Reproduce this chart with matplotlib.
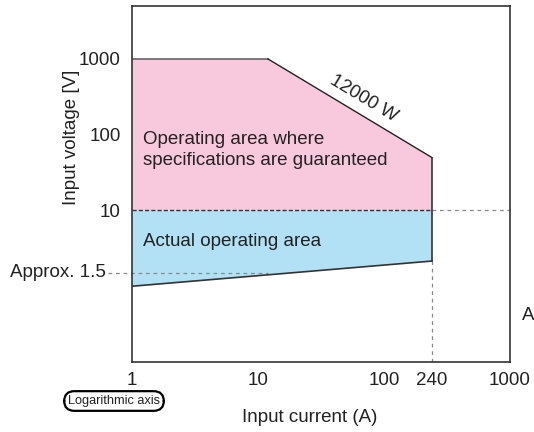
import matplotlib
matplotlib.use("Agg")
import matplotlib.pyplot as plt

plt.rcParams['font.family'] = ['Liberation Sans', 'DejaVu Sans']

# boundaries of the operating areas (current in A, voltage in V)
spec_current = [1, 12, 240, 240, 1]
spec_voltage = [1000, 1000, 50, 10, 10]
actual_current = [1, 240, 240, 1]
actual_voltage = [10, 10, 2.15, 1.0]
power_current = [12, 240]
power_voltage = [1000, 50]

x_ticks = [1, 10, 100, 240, 1000]
x_labels = ['1', '10', '100', '240', '1000']
y_ticks = [10, 100, 1000]
y_labels = ['10', '100', '1000']

pink = '#F8C9DD'
blue = '#B2E1F6'
edge = '#333333'
txt = '#222222'
fs = 13.5

fig = plt.figure(figsize=(5.34, 4.32), dpi=100)
ax = fig.add_axes([132 / 534, 1 - 362 / 432, 378 / 534, 356 / 432])
ax.set_xscale('log')
ax.set_yscale('log')
ax.set_xlim(1, 1000)
ax.set_ylim(0.1, 5000)

ax.fill(spec_current, spec_voltage, color=pink, lw=0, zorder=1)
ax.fill(actual_current, actual_voltage, color=blue, lw=0, zorder=1)

# outlines
ax.plot(spec_current[:2], spec_voltage[:2], color='#666666', lw=1.2, zorder=3)
ax.plot(power_current, power_voltage, color='#222222', lw=1.0, zorder=3)
ax.plot([240, 240], [spec_voltage[2], actual_voltage[2]], color=edge, lw=1.2, zorder=3)
ax.plot(actual_current[:2], actual_voltage[:2], color=edge, lw=1.0, ls=(0, (3, 1.5)), zorder=3)
ax.plot(actual_current[2:], actual_voltage[2:], color=edge, lw=1.2, zorder=3)

# guide lines
ax.plot([240, 1000], [10, 10], color='#888888', lw=0.9, ls=(0, (3, 3)), zorder=2, clip_on=False)
ax.plot([240, 240], [0.1, actual_voltage[2]], color='#888888', lw=0.9, ls=(0, (3, 3)), zorder=2)
ax.plot([0.645, 12], [1.5, 1.5], color='#888888', lw=0.9, ls=(0, (3, 3)), zorder=2, clip_on=False)

for s in ax.spines.values():
    s.set_color(edge)
    s.set_linewidth(1.2)
    s.set_zorder(4)

ax.set_xticks(x_ticks)
ax.set_xticklabels(x_labels)
ax.set_yticks(y_ticks)
ax.set_yticklabels(y_labels)
ax.minorticks_off()
ax.tick_params(length=0, labelsize=fs, colors=txt)
ax.tick_params(axis='x', pad=7)
ax.tick_params(axis='y', pad=8)

ax.text(0.625, 1.5, 'Approx. 1.5', fontsize=fs, color=txt, ha='right', va='center')

ax.text(1.22, 62, 'Operating area where\nspecifications are guaranteed', fontsize=fs,
        color=txt, ha='left', va='center', linespacing=1.3)
ax.text(1.22, 3.9, 'Actual operating area', fontsize=fs, color=txt, ha='left', va='center')
ax.text(69, 300, '12000 W', fontsize=fs, color=txt, ha='center', va='center', rotation=-31)

fig.text(72 / 534, 1 - 137 / 432, 'Input voltage [V]', fontsize=fs, color=txt,
         rotation=90, ha='center', va='center')
fig.text(310 / 534, 1 - 418 / 432, 'Input current (A)', fontsize=fs, color=txt,
         ha='center', va='center')
fig.text(114 / 534, 1 - 401 / 432, 'Logarithmic axis', fontsize=9.2, color=txt,
         ha='center', va='center',
         bbox=dict(boxstyle='round,pad=0.3,rounding_size=0.8', fc='white', ec='black', lw=1.6))
fig.text(522 / 534, 1 - 316 / 432, 'A', fontsize=fs, color=txt, ha='left', va='center')

fig.savefig('out.png', dpi=100)
